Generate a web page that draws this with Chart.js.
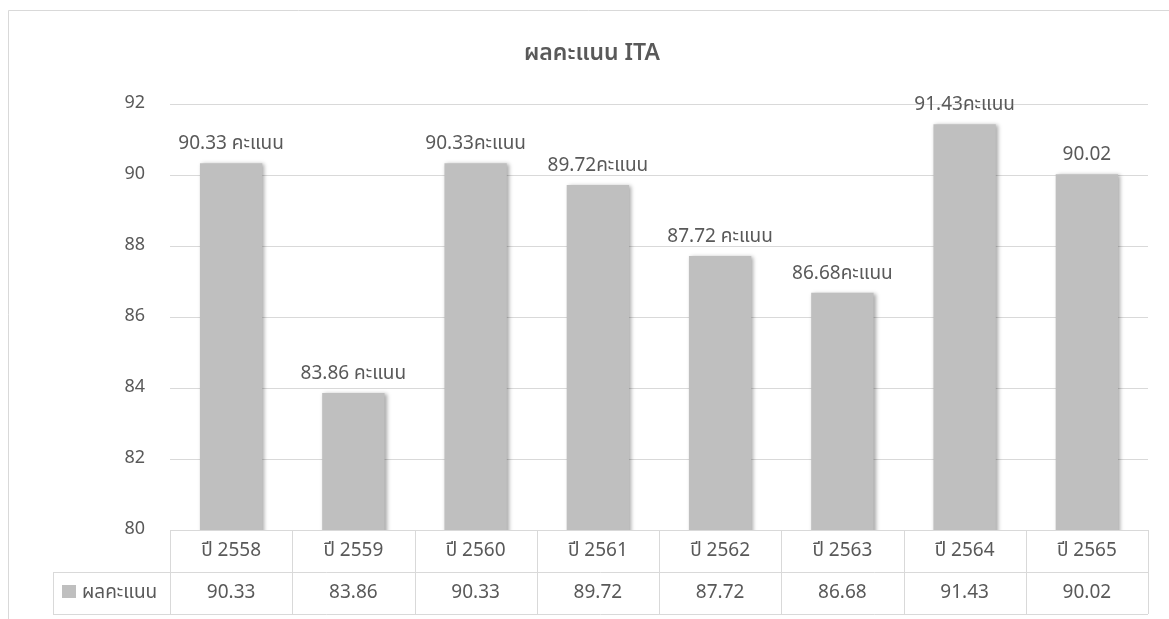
<!DOCTYPE html>
<html>
<head>
<meta charset="utf-8">
<script src="https://cdn.jsdelivr.net/npm/chart.js@4.4.0/dist/chart.umd.min.js"></script>
<style>
  html, body { margin: 0; padding: 0; background: #fff; }
  #wrap { width: 1169px; height: 619px; position: relative; }
</style>
</head>
<body>
<div id="wrap"><canvas id="myChart" width="1169" height="619"></canvas></div>
<script>
/**
 * chart data
 */
var years = ['ปี 2558', 'ปี 2559', 'ปี 2560', 'ปี 2561', 'ปี 2562', 'ปี 2563', 'ปี 2564', 'ปี 2565'];
var scores = [90.33, 83.86, 90.33, 89.72, 87.72, 86.68, 91.43, 90.02];
var barLabels = ['90.33 คะแนน', '83.86 คะแนน', '90.33คะแนน', '89.72คะแนน', '87.72 คะแนน', '86.68คะแนน', '91.43คะแนน', '90.02'];
var tableValues = ['90.33', '83.86', '90.33', '89.72', '87.72', '86.68', '91.43', '90.02'];
var seriesName = 'ผลคะแนน';
var chartTitle = 'ผลคะแนน ITA';

var FONT = "'Noto Sans Thai', 'Leelawadee UI', Tahoma, 'Noto Sans', sans-serif";
var TEXT = '#595959';
var LINE = '#d9d9d9';
var BAR = '#bfbfbf';

// title, border, labels over bars and the data table under the plot
const extras = {
  id: 'extras',
  beforeDraw(chart) {
    const ctx = chart.ctx;
    ctx.save();
    ctx.fillStyle = '#fff';
    ctx.fillRect(0, 0, chart.width, chart.height);
    ctx.strokeStyle = LINE;
    ctx.lineWidth = 1;
    ctx.beginPath();
    ctx.moveTo(8.5, chart.height);
    ctx.lineTo(8.5, 10.5);
    ctx.lineTo(chart.width, 10.5);
    ctx.stroke();
    ctx.restore();
  },
  beforeDatasetsDraw(chart) {
    const ctx = chart.ctx;
    ctx.save();
    ctx.shadowColor = 'rgba(0,0,0,0.35)';
    ctx.shadowBlur = 4;
    ctx.shadowOffsetX = 2;
    ctx.shadowOffsetY = 1;
  },
  afterDatasetsDraw(chart) {
    chart.ctx.restore();
  },
  afterDraw(chart) {
    const ctx = chart.ctx;
    const area = chart.chartArea;
    const meta = chart.getDatasetMeta(0);
    ctx.save();

    // title
    ctx.fillStyle = TEXT;
    ctx.font = '600 23px ' + FONT;
    ctx.textAlign = 'center';
    ctx.textBaseline = 'middle';
    ctx.fillText(chartTitle, 592, 55);

    // labels over the bars
    ctx.font = '19px ' + FONT;
    ctx.textBaseline = 'alphabetic';
    meta.data.forEach((bar, i) => {
      ctx.fillText(barLabels[i], bar.x, bar.y - 14);
    });

    // data table
    const n = years.length;
    const step = (area.right - area.left) / n;
    const top = area.bottom;
    const mid = top + 42;
    const bot = mid + 42;
    const legLeft = 53;

    ctx.strokeStyle = LINE;
    ctx.lineWidth = 1;
    ctx.beginPath();
    ctx.moveTo(area.left, top + 0.5); ctx.lineTo(area.right, top + 0.5);
    ctx.moveTo(legLeft, mid + 0.5); ctx.lineTo(area.right, mid + 0.5);
    ctx.moveTo(legLeft, bot + 0.5); ctx.lineTo(area.right, bot + 0.5);
    ctx.moveTo(legLeft + 0.5, mid); ctx.lineTo(legLeft + 0.5, bot);
    for (let i = 0; i <= n; i++) {
      const x = Math.round(area.left + i * step) + 0.5;
      ctx.moveTo(x, top); ctx.lineTo(x, bot);
    }
    ctx.stroke();

    ctx.fillStyle = TEXT;
    ctx.font = '19px ' + FONT;
    ctx.textAlign = 'center';
    ctx.textBaseline = 'middle';
    const xs = chart.scales.x;
    years.forEach((y, i) => {
      const cx = xs.getPixelForValue(i);
      ctx.fillText(y, cx, (top + mid) / 2 + 1);
      ctx.fillText(tableValues[i], cx, (mid + bot) / 2 + 1);
    });

    // legend key
    ctx.fillStyle = BAR;
    ctx.fillRect(62, 585, 14, 13);
    ctx.fillStyle = TEXT;
    ctx.textAlign = 'left';
    ctx.fillText(seriesName, 82, (mid + bot) / 2 + 1);

    ctx.restore();
  }
};

const data = {
  labels: years,
  datasets: [
    {
      label: seriesName,
      data: scores,
      backgroundColor: BAR,
      borderWidth: 0,
      barPercentage: 0.51,
      categoryPercentage: 1.0
    }
  ]
};

const config = {
  type: 'bar',
  data,
  options: {
    responsive: false,
    animation: false,
    events: [],
    layout: {
      padding: { left: 0, top: 104, right: 21, bottom: 89 }
    },
    plugins: {
      legend: { display: false },
      title: { display: false },
      tooltip: { enabled: false }
    },
    scales: {
      x: {
        display: false
      },
      y: {
        min: 80,
        max: 92,
        afterFit: (scale) => { scale.width = 170; },
        border: { display: false },
        grid: { color: LINE, lineWidth: 1, drawTicks: false },
        ticks: {
          stepSize: 2,
          padding: 25,
          color: TEXT,
          font: { family: FONT, size: 18 }
        }
      }
    }
  },
  plugins: [extras]
};

document.addEventListener('DOMContentLoaded', () => {
  myChart = new Chart(document.getElementById('myChart'), config);
});
</script>
</body>
</html>
